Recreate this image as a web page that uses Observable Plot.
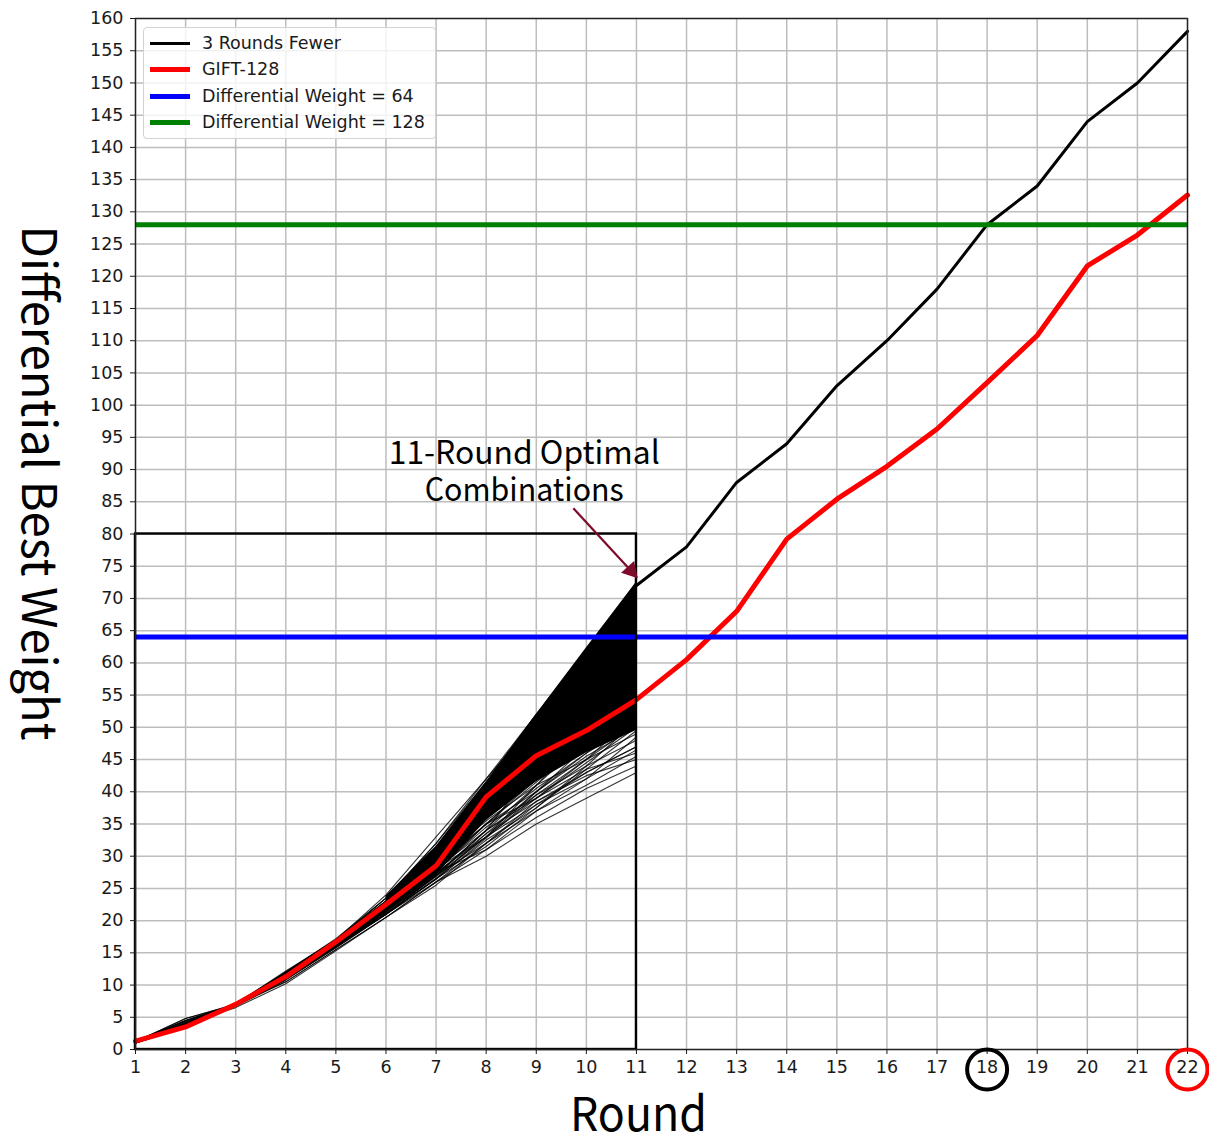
<!DOCTYPE html>
<html><head><meta charset="utf-8">
<script src="https://cdn.jsdelivr.net/npm/d3@7"></script>
<script src="https://cdn.jsdelivr.net/npm/@observablehq/plot@0.6"></script>
<style>
body{margin:0;background:#fff;}
#wrap{position:relative;width:1209px;height:1144px;}
#legend{position:absolute;left:143px;top:27px;width:291px;height:110px;background:rgba(255,255,255,0.8);border:1px solid #d3d3d3;border-radius:4px;font-family:"DejaVu Sans";font-size:17.5px;color:#1a1a1a;}
.sw{position:absolute;left:6px;width:40px;}
.lab{position:absolute;left:58px;white-space:nowrap;line-height:20px;}
</style></head>
<body><div id="wrap"></div>
<script>
// ---- data ----
const rounds = d3.range(1, 23);
const gift128 = [1.3, 3.5, 7.0, 11.3, 16.7, 22.5, 28.5, 39.2, 45.6, 49.5, 54.3, 60.5, 68.0, 79.2, 85.4, 90.5, 96.3, 103.5, 110.8, 121.6, 126.4, 132.6];
const fewerRounds = [11, 12, 13, 14, 15, 16, 17, 18, 19, 20, 21, 22];
const fewerWeights = [72, 78, 88, 94, 103, 110, 118, 128, 134, 144, 150, 158];
const weightLines = [64, 128];
const weightColors = ["#0000ff", "#008000"];

// 11-round combinations (rounds 1..11)
const bundleRounds = d3.range(1, 12);
const bundleLines = [
  [1.2,3.5,7,11.5,16.5,22,29,39,46,50,55],
  [1,4.5,7,11,16,21,26,30,35,39,43],
  [1.2,4.8,7,10.5,15.5,20.5,26,31,36,40.5,44],
  [1,4,6.5,10.2,15.3,20.5,25.5,32,37,41,45.5],
  [1.3,3.8,6.8,11,16,21.5,27,33,38,42,46.5],
  [1.3,3.5,7,11.5,16.5,22,28,34,39.5,44,48],
  [1,4.2,7,11.8,17,22.5,29,35.5,41,45,49],
  [1.2,3.6,7,11.2,16.2,21.8,27.5,35,40,46,50.5],
  [1.4,3.5,7.2,12,17,23,30,37,43,47,52],
  [1,4,7,11,16.5,22,28,36,42,48.5,53],
  [1.2,3.5,6.8,11.5,17,23,30,38,44,50,56],
  [1.3,4.5,7,12,17.2,23.5,31,40,46,52,58],
  [1.2,3.5,7,11.5,16.5,22,29,38,46,53,60],
  [1,3.8,7,12,17,23,31,41,49,55,62],
  [1.3,3.5,7,11.8,16.8,23.5,32,42,51,58,65],
  [1.2,4.8,7,12.2,17,24,33,42,52,61,70],
  [1,3.5,7,11.5,16.5,22.5,31,41,51,62,72],
  [1.2,4,7,12,17,23.5,32,41.5,52,62,72.5],
  [1,3.6,7,11,16,21.5,28,37,47,57,67],
  [1.2,3.5,6.7,10.8,15.8,21,27,34,44,54,63],
  [1.3,4,7,11.3,16.3,21.5,27.5,33,41,49,58],
  [1,3.7,7,11.5,16.8,22.5,29.5,36.5,44,52,61],
  [1.2,3.5,7,12,17,23,30.5,39,47,56,66],
  [1.3,4.5,7,11.5,16,21,26.5,33.5,40,47,54],
  [1,3.5,6.8,10.5,15.5,20.5,26,32,38,43,47],
  [1.2,3.9,7,11,16,21,26.5,32.5,37.5,44,51],
  [1.2,3.5,7,11.5,17,22.5,29,37,43.5,49,57],
  [1,4.2,7,11.8,17,22,28,35,42,51,60],
  [1.3,3.5,7,11.5,16.5,22,28.5,36,45,55,64],
  [1.2,3.6,7,11.2,16.2,22,29,38.5,48,58,69],
  [1,3.5,7,11.5,16.5,22,30,40,50,60,71],
  [1.2,4,7,12,17,23,30.5,38,45,50,54],
  [1.3,3.5,6.8,10.8,15.8,21,27,34,39,45,52],
  [1.2,3.7,7,11.3,16.3,21.7,28,35,41.5,47.5,56],
  [1,3.5,7,11,16,21.5,27.5,31,37,42,48.5],
  [1.2,3.8,7,11.5,16.6,22,28,33,39,44.5,50],
  [1.2,3.6,7,11,16,21.3,27,32,38.5,43,47],
  [1.1,4.1,7,11.4,16.4,21.8,27.8,34.5,40.5,46,51.5],
  [1.3,3.5,6.9,11.2,16.1,21.2,26.8,33,40,45.5,50],
  [1.2,3.8,7,11.6,16.7,22.3,28.8,36,42.5,47,53],
  [1,3.5,7,11,16,21,26.5,31.5,37.5,43.5,49.5],
  [1.2,4.3,7,11.3,16.2,21.4,27.2,34,41,48,55],
  [1.3,3.6,7,11.5,16.6,22.2,28.5,35,39,43.5,46],
  [1.2,3.9,7,11.2,16.3,21.6,27.3,33.5,38.5,42.5,45],
  [1.1,3.5,6.9,11,16,21.1,26.4,32.8,39.5,45,50.5],
  [1.3,4.4,7,11.7,16.9,22.6,29.2,37.5,43,48,52.5]
];
// dense (overlapping) part of the bundle
const denseRounds = [6, 7, 8, 9, 10, 11];
const denseTop = [23.8, 31.5, 41.5, 52, 62.3, 72.5];
const denseBottom = [21.5, 27, 35.5, 41.5, 46, 49.5];

const boxRounds = [1, 11];
const boxWeights = [0, 80];

const xTicks = d3.range(1, 23);
const yTicks = d3.range(0, 161, 5);
const circledRounds = [18, 22];
const circleColors = ["#000000", "#ff0000"];

const annLines = ["11-Round Optimal", "Combinations"];
const annRound = 8.76;
const annWeights = [92.5, 86.7];
const arrowFrom = [9.74, 84.0];
const arrowTo = [11.01, 73.3];

const legendLabels = ["3 Rounds Fewer", "GIFT-128", "Differential Weight = 64", "Differential Weight = 128"];
const legendColors = ["#000000", "#ff0000", "#0000ff", "#008000"];
const legendWidths = [3, 5, 5, 5];

const xTitle = "Round";
const yTitle = "Differential Best Weight";

// ---- tidy tables ----
const giftData = rounds.map((r, i) => ({r, w: gift128[i]}));
const fewerData = fewerRounds.map((r, i) => ({r, w: fewerWeights[i]}));
const bundleData = bundleLines.flatMap((vals, id) => vals.map((w, j) => ({id, r: bundleRounds[j], w})));
const denseData = denseRounds.map((r, i) => ({r, lo: denseBottom[i], hi: denseTop[i]}));
const circleData = circledRounds.map((r, i) => ({r, c: circleColors[i]}));
const annData = annLines.map((t, i) => ({t, r: annRound, w: annWeights[i]}));

const chart = Plot.plot({
  width: 1209, height: 1144,
  marginLeft: 135, marginRight: 22, marginTop: 18, marginBottom: 95,
  x: {domain: [1, 22]},
  y: {domain: [0, 160]},
  style: {fontFamily: "DejaVu Sans", fontSize: "17.5px", color: "#1a1a1a", background: "white"},
  marks: [
    Plot.gridX(xTicks, {stroke: "#bdbdbd", strokeOpacity: 1, strokeWidth: 1.5}),
    Plot.gridY(yTicks, {stroke: "#bdbdbd", strokeOpacity: 1, strokeWidth: 1.5}),
    Plot.areaY(denseData, {x: "r", y1: "lo", y2: "hi", fill: "black", fillOpacity: 1}),
    Plot.line(bundleData, {x: "r", y: "w", z: "id", stroke: "black", strokeWidth: 1.1, strokeOpacity: 0.8}),
    Plot.line(fewerData, {x: "r", y: "w", stroke: "black", strokeWidth: 3}),
    Plot.line(giftData, {x: "r", y: "w", stroke: "#ff0000", strokeWidth: 5}),
    Plot.ruleY(weightLines, {y: d => d, stroke: (d, i) => weightColors[i], strokeWidth: 5}),
    Plot.rect([0], {x1: () => boxRounds[0], x2: () => boxRounds[1], y1: () => boxWeights[0], y2: () => boxWeights[1], fill: "none", stroke: "black", strokeWidth: 2.4}),
    Plot.frame({stroke: "#222", strokeWidth: 1.4}),
    Plot.axisX(xTicks, {tickSize: 5, tickPadding: 6, tickFormat: d => String(d), label: null}),
    Plot.axisY(yTicks, {tickSize: 5, tickPadding: 7, tickFormat: d => String(d), label: null}),
    Plot.dot(circleData, {x: "r", y: () => 0, dy: 20, r: 20, stroke: "c", strokeWidth: 4, fill: "none"}),
    Plot.link([0], {x1: () => arrowFrom[0], y1: () => arrowFrom[1], x2: () => arrowTo[0], y2: () => arrowTo[1], stroke: "#7d0c2b", strokeWidth: 2.2}),
    Plot.dot([0], {x: () => arrowTo[0], y: () => arrowTo[1], dx: -6, dy: -6.5, symbol: "triangle", r: 6.5, rotate: 138, fill: "#7d0c2b", stroke: "none"}),
    Plot.text(annData, {x: "r", y: "w", text: "t", fontSize: 32, fontFamily: "Noto Sans CJK KR", fill: "black", textAnchor: "middle", lineAnchor: "middle"}),
    Plot.text([xTitle], {frameAnchor: "bottom", textAnchor: "middle", dx: -23, dy: 66, fontSize: 47, fontFamily: "Noto Sans CJK KR", fill: "black", lineAnchor: "middle"}),
    Plot.text([yTitle], {frameAnchor: "left", textAnchor: "middle", dx: -98, dy: -51, rotate: 90, fontSize: 48, fontFamily: "Noto Sans CJK KR", fill: "black", lineAnchor: "middle"})
  ]
});

// fit the wide titles to the reference lengths
const fitLengths = {"11-Round Optimal": 271, "Combinations": 199, "Round": 137, "Differential Best Weight": 515};
chart.querySelectorAll("text").forEach(t => {
  const L = fitLengths[t.textContent];
  if (L) { t.setAttribute("textLength", L); t.setAttribute("lengthAdjust", "spacingAndGlyphs"); }
});

const wrap = document.getElementById("wrap");
wrap.appendChild(chart);

// legend
const leg = document.createElement("div");
leg.id = "legend";
const rowY = [15, 41, 68, 94];
legendLabels.forEach((lab, i) => {
  const sw = document.createElement("div");
  sw.className = "sw";
  sw.style.top = (rowY[i] - legendWidths[i] / 2) + "px";
  sw.style.height = legendWidths[i] + "px";
  sw.style.background = legendColors[i];
  leg.appendChild(sw);
  const tx = document.createElement("div");
  tx.className = "lab";
  tx.style.top = (rowY[i] - 10) + "px";
  tx.textContent = lab;
  leg.appendChild(tx);
});
wrap.appendChild(leg);
</script>
</body></html>
